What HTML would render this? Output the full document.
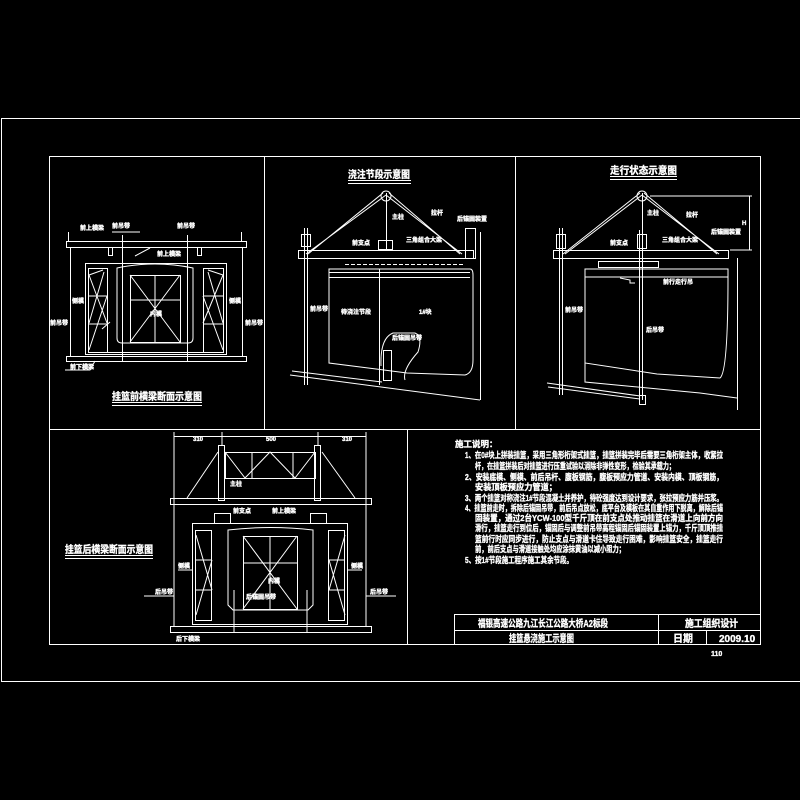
<!DOCTYPE html>
<html><head><meta charset="utf-8"><style>
html,body{margin:0;padding:0;background:#000;width:800px;height:800px;overflow:hidden}
svg{display:block}
text{fill:#fff;stroke:#fff;stroke-width:0.35;font-family:"Liberation Sans","Noto Sans CJK SC",sans-serif;font-weight:bold}
</style></head><body>
<svg width="800" height="800" viewBox="0 0 800 800" xmlns="http://www.w3.org/2000/svg">
<g fill="none" stroke="#fff" stroke-width="1">
<rect x="1.5" y="118.5" width="800" height="563"/>
<rect x="49.5" y="156.5" width="711" height="488"/>
<line x1="49" y1="429.5" x2="761" y2="429.5"/>
<line x1="264.5" y1="156" x2="264.5" y2="430"/>
<line x1="515.5" y1="156" x2="515.5" y2="430"/>
<line x1="407.5" y1="430" x2="407.5" y2="644"/>
<rect x="454.5" y="614.5" width="306" height="30"/>
<line x1="454" y1="630.5" x2="761" y2="630.5"/>
<line x1="658.5" y1="614" x2="658.5" y2="644"/>
<line x1="706.5" y1="630" x2="706.5" y2="644"/>

<rect x="66.5" y="241.5" width="180" height="6"/>
<rect x="66.5" y="356.5" width="180" height="5"/>
<line x1="70.5" y1="247" x2="70.5" y2="356"/>
<line x1="242.5" y1="247" x2="242.5" y2="356"/>
<line x1="122.5" y1="235" x2="122.5" y2="361"/>
<line x1="187.5" y1="235" x2="187.5" y2="361"/>
<line x1="68.5" y1="232" x2="68.5" y2="241"/><line x1="241.5" y1="232" x2="241.5" y2="241"/>
<rect x="108.5" y="247.5" width="4" height="8"/><rect x="197.5" y="247.5" width="4" height="8"/>
<rect x="85.5" y="263.5" width="141" height="91"/>
<rect x="88.5" y="268.5" width="19" height="84"/>
<rect x="203.5" y="268.5" width="20" height="84"/>
<path d="M89 275 L103 270 M89 296 H107 M89 324 H107 M89 275 L107 323 M107 296 L89 350 M104 272 L89 323"/>
<path d="M223 275 L208 270 M203 296 H223 M203 324 H223 M223 275 L203 323 M203 296 L223 350 M208 272 L223 323"/>
<path d="M117 268 Q155 260 193 268 V338 Q193 343 188 343 H122 Q117 343 117 338 Z"/>
<rect x="130.5" y="275.5" width="50" height="67"/>
<path d="M130 275 L180 342 M180 275 L130 342 M155 275 V342 M130 300 H180"/>
<line x1="107" y1="352.5" x2="203" y2="352.5"/>
<line x1="112" y1="402.5" x2="202" y2="402.5"/><line x1="112" y1="405.5" x2="202" y2="405.5"/>
<path d="M65 370 H90 L95 361 M112 232 H140 M102 329 L110 322 M135 256 L150 248"/>

<line x1="348" y1="180.5" x2="411" y2="180.5"/><line x1="348" y1="183.5" x2="411" y2="183.5"/>
<circle cx="386" cy="196" r="5"/>
<path d="M383 193 L308 254 M386 195 L306 254 M389 193 L460 254 M386 195 L462 254"/>
<line x1="386.5" y1="193" x2="386.5" y2="250"/>
<rect x="378.5" y="240.5" width="14" height="9"/>
<rect x="298.5" y="250.5" width="175" height="8"/>
<line x1="304.5" y1="228" x2="304.5" y2="385"/><line x1="307.5" y1="228" x2="307.5" y2="385"/>
<rect x="301.5" y="234.5" width="9" height="12"/>
<rect x="465.5" y="228.5" width="10" height="30"/>
<path d="M329 269 H470 Q473 269 473 275 V360 Q473 373 465 375 L407 373 L329 363 Z"/>
<line x1="329" y1="272.5" x2="470" y2="272.5"/><line x1="329" y1="277.5" x2="470" y2="277.5"/>
<line x1="379.5" y1="269" x2="379.5" y2="385"/>
<line x1="480.5" y1="232" x2="480.5" y2="400"/>
<path d="M290 375 L480 400 M292 371 L382 382"/>
<path d="M381 366 Q380 338 393 333 H415 Q423 336 418 352 Q402 370 405 380"/>
<rect x="383.5" y="350.5" width="8" height="30"/>
<line x1="345" y1="264.5" x2="465" y2="264.5" stroke-dasharray="4 2"/>

<line x1="610" y1="176.5" x2="677" y2="176.5"/><line x1="610" y1="179.5" x2="677" y2="179.5"/>
<path d="M640 193 L563 254 M642 195 L565 254 M644 193 L717 254 M642 195 L719 254"/>
<circle cx="642" cy="196" r="5"/>
<line x1="642.5" y1="193" x2="642.5" y2="400"/><line x1="639.5" y1="230" x2="639.5" y2="395"/>
<rect x="637.5" y="234.5" width="9" height="14"/>
<rect x="553.5" y="250.5" width="175" height="8"/>
<line x1="559.5" y1="228" x2="559.5" y2="395"/><line x1="562.5" y1="228" x2="562.5" y2="395"/>
<rect x="556.5" y="234.5" width="9" height="14"/>
<path d="M585 269 H728 V277 H585 Z"/>
<path d="M585 277 V363 L657 374 L720 378 Q728 372 728 277"/>
<path d="M585 363 L585 382 L700 393 L737 398"/>
<line x1="737.5" y1="258" x2="737.5" y2="410"/>
<line x1="749.5" y1="196" x2="749.5" y2="250"/>
<path d="M650 196 H752 M730 250 H752"/>
<path d="M547 383 L640 396 M548 387 L640 399"/>
<rect x="639.5" y="395.5" width="6" height="9"/>
<rect x="598.5" y="261.5" width="60" height="6"/>
<path d="M620 278 L630 280 V283 H635"/>

<line x1="174" y1="436.5" x2="366" y2="436.5"/>
<path d="M174 432 V627 M366 432 V627 M222 432 V445 M318 432 V445"/>
<rect x="170.5" y="498.5" width="201" height="6"/>
<rect x="170.5" y="626.5" width="201" height="6"/>
<rect x="218.5" y="445.5" width="6" height="55"/><rect x="314.5" y="445.5" width="6" height="55"/>
<rect x="225.5" y="452.5" width="90" height="26"/>
<path d="M252 452 V478 M293 452 V478 M225 452 L245 478 L270 452 L295 478 L315 452 M187 498 L218 452 M355 498 L322 452"/>
<rect x="214.5" y="513.5" width="16" height="10"/><rect x="310.5" y="513.5" width="16" height="10"/>
<rect x="192.5" y="523.5" width="155" height="101"/>
<rect x="195.5" y="530.5" width="16" height="90"/><rect x="328.5" y="530.5" width="16" height="90"/>
<path d="M196 560 H212 M196 590 H212 M196 535 L212 590 M212 560 L196 615 M329 560 H345 M329 590 H345 M345 535 L329 590 M329 560 L345 615"/>
<path d="M228 530 Q270 525 313 530 V605 L308 610 H233 L228 605 Z"/>
<rect x="243.5" y="536.5" width="54" height="73"/>
<path d="M243 536 L297 609 M297 536 L243 609 M270 536 V609 M243 563 H297"/>
<path d="M234 590 V632 M307 590 V632"/>
<line x1="65" y1="555.5" x2="153" y2="555.5"/><line x1="65" y1="558.5" x2="153" y2="558.5"/>
<path d="M144 596 H174 M366 596 H396 M178 570 H192 M348 570 H362"/>
</g>
<g font-size="10">
<text x="112" y="400" textLength="90" lengthAdjust="spacingAndGlyphs">挂篮前横梁断面示意图</text>
<text x="348" y="178" textLength="62" lengthAdjust="spacingAndGlyphs">浇注节段示意图</text>
<text x="610" y="174" textLength="67" lengthAdjust="spacingAndGlyphs">走行状态示意图</text>
<text x="65" y="553" textLength="88" lengthAdjust="spacingAndGlyphs">挂篮后横梁断面示意图</text>
</g>
<g font-size="6">
<text x="80" y="230">前上横梁</text><text x="112" y="228">前吊带</text><text x="177" y="228">前吊带</text>
<text x="157" y="256">前上横梁</text><text x="72" y="303">侧模</text><text x="229" y="303">侧模</text>
<text x="50" y="325">前吊带</text><text x="245" y="325">前吊带</text><text x="150" y="316">内模</text>
<text x="70" y="369">前下横梁</text>
<text x="392" y="219">主柱</text><text x="431" y="215">拉杆</text><text x="457" y="221">后锚固装置</text>
<text x="352" y="245">前支点</text><text x="406" y="242">三角组合大梁</text>
<text x="310" y="311">前吊带</text><text x="341" y="314">待浇注节段</text><text x="419" y="314">1#块</text>
<text x="392" y="340">后锚固吊带</text>
<text x="647" y="215">主柱</text><text x="686" y="217">拉杆</text><text x="711" y="234">后锚固装置</text>
<text x="610" y="245">前支点</text><text x="662" y="242">三角组合大梁</text>
<text x="663" y="284">前行走行吊</text><text x="565" y="312">前吊带</text><text x="646" y="332">后吊带</text>
<text x="742" y="225">H</text>
<text x="193" y="441">310</text><text x="266" y="441">500</text><text x="342" y="441">310</text>
<text x="230" y="486">主柱</text><text x="233" y="513">前支点</text><text x="272" y="513">前上横梁</text>
<text x="178" y="568">侧模</text><text x="351" y="568">侧模</text>
<text x="155" y="594">后吊带</text><text x="370" y="594">后吊带</text>
<text x="268" y="583">内模</text><text x="246" y="599">后锚固吊带</text><text x="176" y="641">后下横梁</text>
</g>
<g font-size="8.5">
<text x="455" y="447">施工说明：</text>
<text x="465" y="458" textLength="258" lengthAdjust="spacingAndGlyphs">1、在0#块上拼装挂篮，采用三角形桁架式挂篮，挂篮拼装完毕后需要三角桁架主体，收紧拉</text>
<text x="475" y="469" textLength="200" lengthAdjust="spacingAndGlyphs">杆，在挂篮拼装后对挂篮进行压重试验以消除非弹性变形，检验其承载力；</text>
<text x="465" y="480" textLength="258" lengthAdjust="spacingAndGlyphs">2、安装底模、侧模、前后吊杆、腹板钢筋，腹板预应力管道、安装内模、顶板钢筋，</text>
<text x="475" y="490" textLength="82" lengthAdjust="spacingAndGlyphs">安装顶板预应力管道；</text>
<text x="465" y="501" textLength="258" lengthAdjust="spacingAndGlyphs">3、两个挂篮对称浇注1#节段混凝土并养护，待砼强度达到设计要求，张拉预应力筋并压浆。</text>
<text x="465" y="511" textLength="258" lengthAdjust="spacingAndGlyphs">4、挂篮前走时，拆除后锚固吊带，前后吊点放松，底平台及模板在其自重作用下脱离，解除后锚</text>
<text x="475" y="521" textLength="248" lengthAdjust="spacingAndGlyphs">固装置，通过2台YCW-100型千斤顶在前支点处推动挂篮在滑道上向前方向</text>
<text x="475" y="531" textLength="248" lengthAdjust="spacingAndGlyphs">滑行，挂篮走行到位后，锚固后与调整前吊带高程锚固后锚固装置上锚力，千斤顶顶推挂</text>
<text x="475" y="542" textLength="248" lengthAdjust="spacingAndGlyphs">篮前行时应同步进行，防止支点与滑道卡住导致走行困难，影响挂篮安全，挂篮走行</text>
<text x="475" y="552" textLength="150" lengthAdjust="spacingAndGlyphs">前，前后支点与滑道接触处均应涂抹黄油以减小阻力；</text>
<text x="465" y="563" textLength="108" lengthAdjust="spacingAndGlyphs">5、按1#节段施工程序施工其余节段。</text>
</g>
<g font-size="10">
<text x="478" y="627" textLength="130" lengthAdjust="spacingAndGlyphs">福银高速公路九江长江公路大桥A2标段</text>
<text x="509" y="642" textLength="65" lengthAdjust="spacingAndGlyphs">挂篮悬浇施工示意图</text>
<text x="685" y="627" textLength="53" lengthAdjust="spacingAndGlyphs">施工组织设计</text>
<text x="673" y="642">日期</text>
<text x="719" y="642" font-family="Liberation Mono,monospace" font-weight="normal">2009.10</text>
<text x="711" y="656" font-size="7">110</text>
</g>
</svg>
</body></html>
